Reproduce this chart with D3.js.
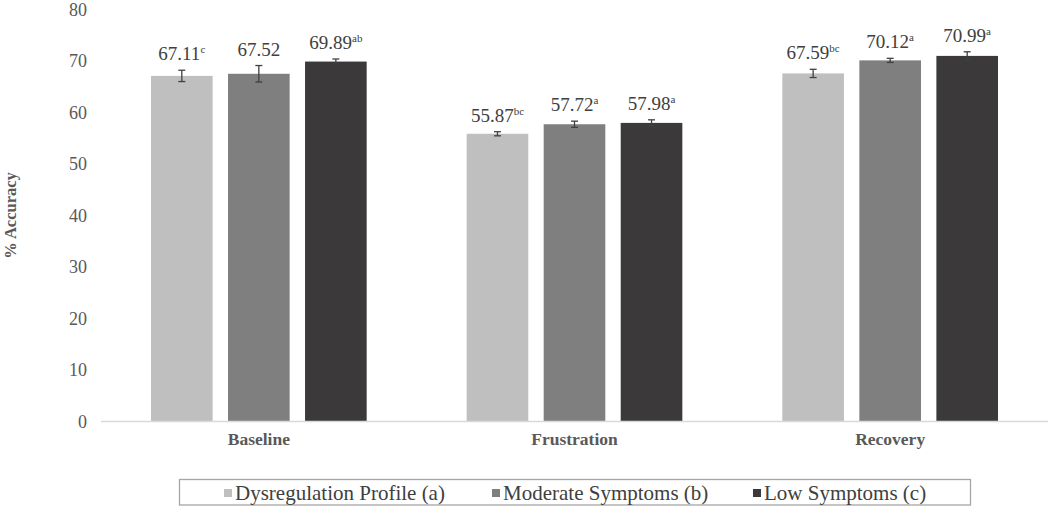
<!DOCTYPE html>
<html><head><meta charset="utf-8">
<script src="https://cdn.jsdelivr.net/npm/d3@7"></script>
<style>body{margin:0;background:#fff}svg{display:block}svg text{font-family:"Liberation Serif","DejaVu Serif",serif}</style>
</head><body>
<svg id="c" width="1050" height="510"></svg>
<script>
const categories = ["Baseline", "Frustration", "Recovery"];
const seriesNames = ["Dysregulation Profile (a)", "Moderate Symptoms (b)", "Low Symptoms (c)"];
const dysregulation = [67.11, 55.87, 67.59];
const moderate = [67.52, 57.72, 70.12];
const low = [69.89, 57.98, 70.99];
const errDysregulation = [1.1, 0.4, 0.8];
const errModerate = [1.6, 0.6, 0.4];
const errLow = [0.5, 0.6, 0.8];
const supDysregulation = ["c", "bc", "bc"];
const supModerate = ["", "a", "a"];
const supLow = ["ab", "a", "a"];
const yTicks = [0, 10, 20, 30, 40, 50, 60, 70, 80];
const colors = ["#bfbfbf", "#7f7f7f", "#3b393a"];

const series = [
  {name: seriesNames[0], values: dysregulation, err: errDysregulation, sup: supDysregulation},
  {name: seriesNames[1], values: moderate, err: errModerate, sup: supModerate},
  {name: seriesNames[2], values: low, err: errLow, sup: supLow}
];

const svg = d3.select("#c");
const x0 = d3.scaleBand().domain(categories).range([101, 1048]).paddingInner(0).paddingOuter(0);
const x1 = d3.scaleBand().domain([0,1,2]).range([50, x0.bandwidth()-50]).paddingInner(0.2).paddingOuter(0);
const y = d3.scaleLinear().domain([0, 80]).range([421.5, 9.5]);

svg.append("g").selectAll("text").data(yTicks).join("text")
  .attr("x", 87).attr("y", d => y(d)).attr("dy", "0.35em")
  .attr("text-anchor", "end").attr("font-size", 18)
  .attr("fill", "#595959").text(d => d);

svg.append("text").attr("transform", `translate(10,${y(40)}) rotate(-90)`)
  .attr("text-anchor", "middle").attr("dy", "0.35em")
  .attr("font-size", 16.5).attr("font-weight", "bold")
  .attr("fill", "#595959").text("% Accuracy");

const groups = svg.append("g").selectAll("g").data(categories).join("g")
  .attr("transform", d => `translate(${x0(d)},0)`);

series.forEach((s, si) => {
  groups.append("rect")
    .attr("x", x1(si)).attr("width", x1.bandwidth())
    .attr("y", (d, i) => y(s.values[i]))
    .attr("height", (d, i) => y(0) - y(s.values[i]))
    .attr("fill", colors[si]);
  const eb = groups.append("g").attr("stroke", "#404040").attr("stroke-width", 1.3);
  const cx = x1(si) + x1.bandwidth()/2;
  eb.append("line").attr("x1", cx).attr("x2", cx)
    .attr("y1", (d,i) => y(s.values[i] + s.err[i])).attr("y2", (d,i) => y(s.values[i] - s.err[i]));
  eb.append("line").attr("x1", cx-3.5).attr("x2", cx+3.5)
    .attr("y1", (d,i) => y(s.values[i] + s.err[i])).attr("y2", (d,i) => y(s.values[i] + s.err[i]));
  eb.append("line").attr("x1", cx-3.5).attr("x2", cx+3.5)
    .attr("y1", (d,i) => y(s.values[i] - s.err[i])).attr("y2", (d,i) => y(s.values[i] - s.err[i]));
  const t = groups.append("text")
    .attr("x", cx).attr("y", (d,i) => y(s.values[i] + s.err[i]) - 10)
    .attr("text-anchor", "middle").attr("font-size", 19)
    .attr("fill", "#404040");
  t.append("tspan").text((d,i) => s.values[i].toFixed(2));
  t.append("tspan").attr("font-size", 11).attr("dy", -7).text((d,i) => s.sup[i]);
});

svg.append("line").attr("x1", 101).attr("x2", 1048).attr("y1", y(0)).attr("y2", y(0))
  .attr("stroke", "#d9d9d9").attr("stroke-width", 1.5);

svg.append("g").selectAll("text").data(categories).join("text")
  .attr("x", d => x0(d) + x0.bandwidth()/2).attr("y", 445)
  .attr("text-anchor", "middle").attr("font-size", 17.5)
  .attr("font-weight", "bold").attr("fill", "#595959").text(d => d);

const lg = svg.append("g");
lg.append("rect").attr("x", 179.5).attr("y", 479.5).attr("width", 791).attr("height", 25.5)
  .attr("fill", "none").attr("stroke", "#a6a6a6").attr("stroke-width", 1.3);
const legX = [224, 492, 753];
series.forEach((s, si) => {
  lg.append("rect").attr("x", legX[si]).attr("y", 489).attr("width", 8).attr("height", 8).attr("fill", colors[si]);
  lg.append("text").attr("x", legX[si] + 11).attr("y", 500)
    .attr("font-size", 21).attr("fill", "#404040").text(s.name);
});
</script>
</body></html>
